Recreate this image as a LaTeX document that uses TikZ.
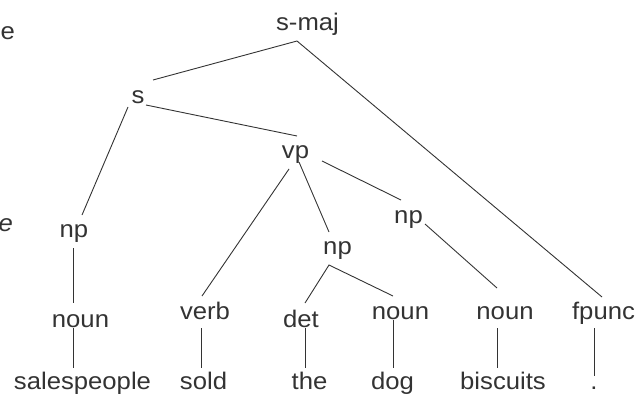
\documentclass[tikz,border=0pt]{standalone}
\usepackage{fontspec}
\setmainfont{Liberation Sans}[FakeStretch=1.07]
\definecolor{ink}{HTML}{333333}
\begin{document}
\begin{tikzpicture}[x=1pt,y=-1pt,
  lbl/.style={anchor=base,inner sep=0pt,outer sep=0pt,text=ink,font=\fontsize{24}{27}\selectfont},
  edge/.style={draw=ink,line width=0.9pt}]
\useasboundingbox (0,0) rectangle (639,396);
\clip (0,0) rectangle (639,396);
% fragments at left edge
\node[lbl,anchor=base east] (frag1) at (15,40) {e};
\node[lbl,anchor=base east] (frag2) at (13,231) {\itshape e};
% nodes
\node[lbl] (smaj) at (307.5,31) {s-maj};
\node[lbl] (s) at (138,103) {s};
\node[lbl] (vp) at (295.5,158) {vp};
\node[lbl] (npL) at (74,237) {np};
\node[lbl] (npI) at (337.5,254) {np};
\node[lbl] (npR) at (408.5,223) {np};
\node[lbl] (nounL) at (80.5,327) {noun};
\node[lbl] (verb) at (205,319) {verb};
\node[lbl] (det) at (301,327) {det};
\node[lbl] (nounD) at (400.5,319) {noun};
\node[lbl] (nounB) at (505,319) {noun};
\node[lbl] (fpunc) at (603.5,319) {fpunc};
\node[lbl] (wsales) at (82.5,389) {salespeople};
\node[lbl] (wsold) at (203.5,389) {sold};
\node[lbl] (wthe) at (309.5,389) {the};
\node[lbl] (wdog) at (392.5,389) {dog};
\node[lbl] (wbisc) at (503,389) {biscuits};
\node[lbl] (wdot) at (594,389) {.};
% connector end points
\coordinate (smajB) at (297,41);
\coordinate (sT) at (153,80);
\coordinate (sR) at (146,105);
\coordinate (sL) at (128,107);
\coordinate (vpT) at (297,136);
\coordinate (vpA) at (289,169);
\coordinate (vpB) at (299,162);
\coordinate (vpC) at (322,161);
\coordinate (npLT) at (82,215);
\coordinate (npLB) at (73,248);
\coordinate (nounLT) at (73,303);
\coordinate (nounLB) at (73,328);
\coordinate (salesT) at (73,368);
\coordinate (verbT) at (202,296);
\coordinate (verbB) at (201,328);
\coordinate (soldT) at (201,368);
\coordinate (npIT) at (329,232);
\coordinate (npIB) at (329,265);
\coordinate (detT) at (305,303);
\coordinate (detB) at (305,328);
\coordinate (theT) at (305,368);
\coordinate (nounDT) at (393,296);
\coordinate (nounDB) at (393,320);
\coordinate (dogT) at (393,368);
\coordinate (npRT) at (401,200);
\coordinate (npRB) at (425,224);
\coordinate (nounBT) at (497,288);
\coordinate (nounBB) at (497,328);
\coordinate (biscT) at (497,368);
\coordinate (fpuncT) at (602,297);
\coordinate (fpuncB) at (594,328);
\coordinate (dotT) at (594,376);
% connectors
\draw[edge] (sT) -- (smajB) -- (fpuncT);
\draw[edge] (sR) -- (vpT);
\draw[edge] (sL) -- (npLT);
\draw[edge] (npLB) -- (nounLT);
\draw[edge] (nounLB) -- (salesT);
\draw[edge] (vpA) -- (verbT);
\draw[edge] (vpB) -- (npIT);
\draw[edge] (vpC) -- (npRT);
\draw[edge] (verbB) -- (soldT);
\draw[edge] (detT) -- (npIB) -- (nounDT);
\draw[edge] (detB) -- (theT);
\draw[edge] (nounDB) -- (dogT);
\draw[edge] (npRB) -- (nounBT);
\draw[edge] (nounBB) -- (biscT);
\draw[edge] (fpuncB) -- (dotT);
\end{tikzpicture}
\end{document}
